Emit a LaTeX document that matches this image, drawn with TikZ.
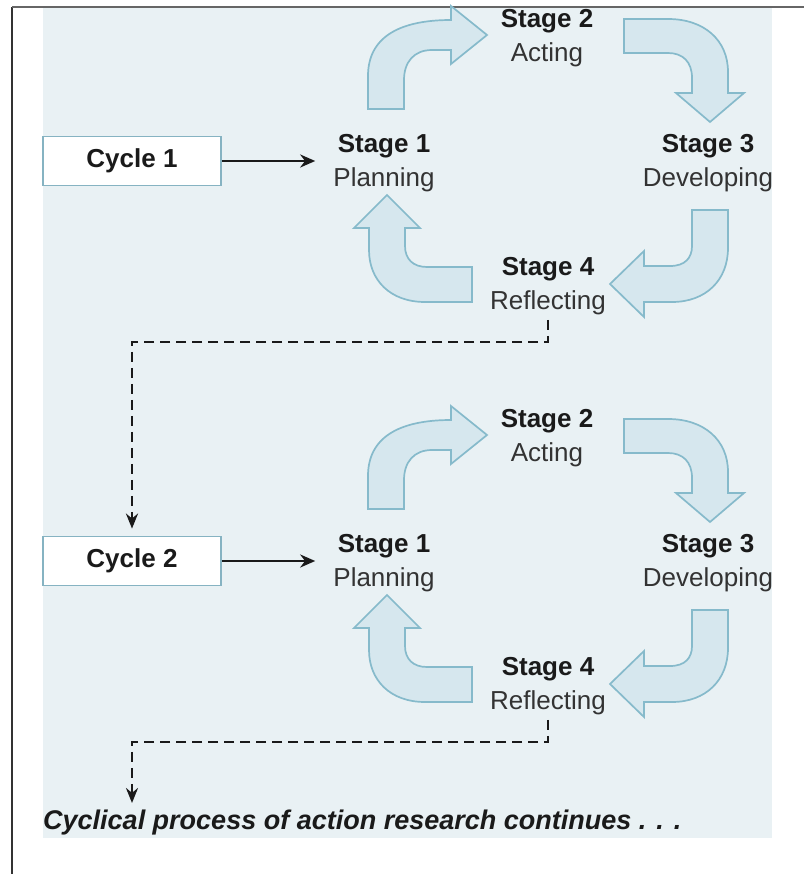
\documentclass[tikz,border=0pt]{standalone}
\usepackage{fontspec}
\setmainfont{Liberation Sans}
\usetikzlibrary{arrows.meta,calc}

\definecolor{panel}{HTML}{E9F1F4}
\definecolor{arrowfill}{HTML}{D6E7EE}
\definecolor{arrowline}{HTML}{86BACB}
\definecolor{boxline}{HTML}{86B3C2}
\definecolor{ink}{HTML}{1A1A1A}
\definecolor{softink}{HTML}{333333}

\tikzset{
  stagelabel/.style={align=center, inner sep=0pt, text=softink,
    font=\fontsize{26}{34}\selectfont},
  cyclebox/.style={draw=boxline, line width=1.8pt, fill=white,
    minimum width=178pt, minimum height=49pt, inner sep=0pt, text=ink,
    font=\bfseries\fontsize{26}{30}\selectfont},
  blockarrow/.style={fill=arrowfill, draw=arrowline, line width=1.7pt,
    line join=miter},
  feed/.style={line width=2.6pt, draw=ink, -{Stealth[length=15pt,width=13pt]}},
  loopback/.style={line width=2.8pt, draw=ink, dash pattern=on 10pt off 6pt,
    -{Stealth[length=15pt,width=12pt]}},
  closing/.style={anchor=west, inner sep=0pt, text=ink,
    font=\bfseries\itshape\fontsize{27}{30}\selectfont},
}

\newcommand{\stagename}[2]{{\bfseries\color{ink}#1}\\#2}

% One planning/acting/developing/reflecting loop; #1 is a name suffix,
% #2 the label of the cycle box.
\newcommand{\actioncycle}[2]{%
  \node[cyclebox] (cycle#1) at (132,161) {#2};
  \node[stagelabel] (plan#1)    at (384,163) {\stagename{Stage 1}{Planning}};
  \node[stagelabel] (act#1)     at (547,38)  {\stagename{Stage 2}{Acting}};
  \node[stagelabel] (develop#1) at (708,163) {\stagename{Stage 3}{Developing}};
  \node[stagelabel] (reflect#1) at (548,286) {\stagename{Stage 4}{Reflecting}};
  % planning -> acting
  \draw[blockarrow] (368,109) -- (368,76)
    .. controls (368,38) and (398,20) .. (451,20) -- (451,6)
    -- (487,35) -- (451,64) -- (451,50) -- (432,50)
    .. controls (414,50) and (404,62) .. (404,80) -- (404,109) -- cycle;
  % acting -> developing
  \draw[blockarrow] (624,19) -- (668,19)
    .. controls (704,19) and (728,40) .. (728,72) -- (728,93) -- (744,93)
    -- (710,122) -- (676,93) -- (692,93) -- (692,78)
    .. controls (692,62) and (683,53) .. (668,53) -- (624,53) -- cycle;
  % developing -> reflecting
  \draw[blockarrow] (692,210) -- (728,210) -- (728,248)
    .. controls (728,280) and (706,302) .. (672,302) -- (644,302)
    -- (644,317) -- (610,284) -- (644,251) -- (644,266) -- (670,266)
    .. controls (685,266) and (692,258) .. (692,246) -- cycle;
  % reflecting -> planning
  \draw[blockarrow] (472,267) -- (472,302) -- (425,302)
    .. controls (390,302) and (369,280) .. (369,250) -- (369,228)
    -- (354,228) -- (387,195) -- (420,228) -- (405,228) -- (405,246)
    .. controls (405,259) and (413,267) .. (427,267) -- cycle;
  \draw[feed, shorten >=18pt] (cycle#1.east) -- (cycle#1.east -| plan#1.west);
}

\begin{document}
\begin{tikzpicture}[x=1pt, y=-1pt]
  \useasboundingbox (0,0) rectangle (804,874);
  \fill[panel] (43,8) rectangle (772,838);
  \draw[line width=1.4pt, black!80] (12,874) -- (12,7);
  \draw[line width=1.2pt, black!60] (12,7) -- (804,7);

  \actioncycle{A}{Cycle 1}
  \begin{scope}[shift={(0,400)}]
    \actioncycle{B}{Cycle 2}
    \coordinate (bendB) at (132,342);
    \coordinate (endB)  at (132,403);
    \node[closing] (more) at (43,423)
      {Cyclical process of action research continues . . .};
  \end{scope}

  \coordinate (bendA) at (132,342);
  \draw[loopback, shorten <=5pt, shorten >=7pt]
    (reflectA.south) |- (bendA) -- (cycleB.north);
  \draw[loopback, shorten <=5pt]
    (reflectB.south) |- (bendB) -- (endB);
\end{tikzpicture}
\end{document}
